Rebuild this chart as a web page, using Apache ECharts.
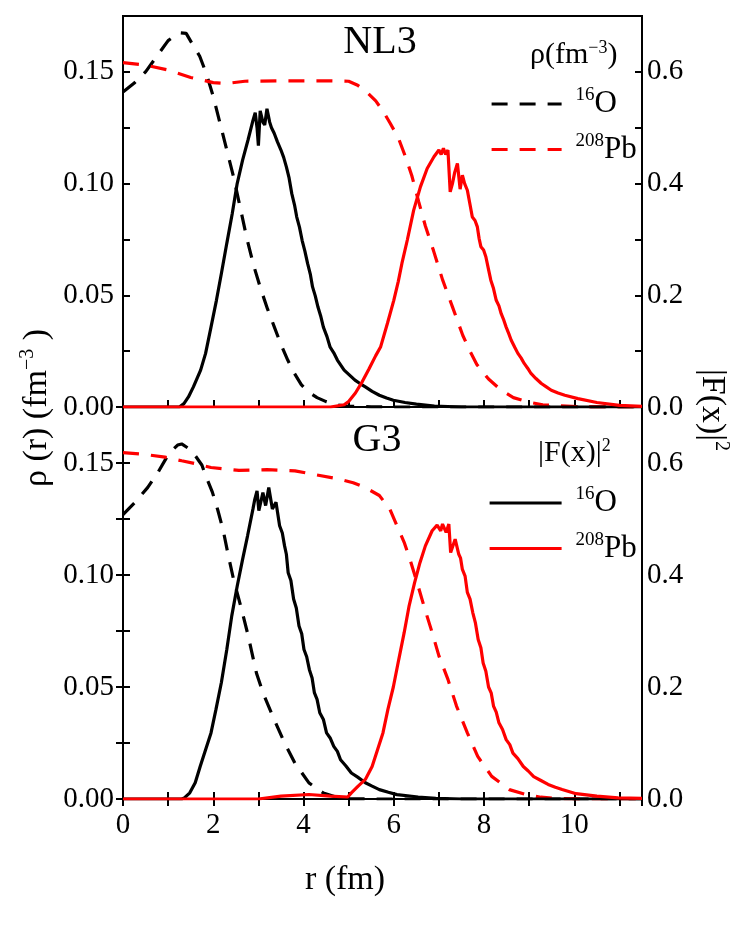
<!DOCTYPE html>
<html>
<head>
<meta charset="utf-8">
<title>NL3 / G3 densities</title>
<script src="https://cdn.jsdelivr.net/npm/echarts@6.0.0/dist/echarts.min.js"></script>
<style>
  html, body { margin: 0; padding: 0; background: #fff; }
  #chart { width: 747px; height: 933px; }
</style>
</head>
<body>
<div id="chart"></div>
<script>
// r (fm) -> value
// NL3 panel
var nl3RhoO = [[0, 0.141], [0.25, 0.145], [0.5, 0.150], [0.75, 0.157], [1.0, 0.164], [1.25, 0.1675], [1.4, 0.1672],
  [1.55, 0.162], [1.7, 0.157], [1.85, 0.149], [2.0, 0.139], [2.15, 0.127], [2.3, 0.115], [2.45, 0.103], [2.6, 0.089],
  [2.75, 0.075], [2.9, 0.063], [3.05, 0.053], [3.2, 0.044], [3.35, 0.036], [3.5, 0.028], [3.65, 0.021], [3.8, 0.015],
  [3.95, 0.010], [4.1, 0.0068], [4.3, 0.0042], [4.5, 0.0024], [4.75, 0.0009], [5.0, 0.0003], [5.5, 0.0001], [6, 0], [11.5, 0]]
var nl3RhoPb = [[0, 0.1541], [0.5, 0.153], [1.0, 0.1508], [1.5, 0.1475], [2.0, 0.1452], [2.3, 0.1448], [2.7, 0.1458],
  [3.5, 0.146], [4.5, 0.146], [5.0, 0.1458], [5.2, 0.144], [5.4, 0.141], [5.6, 0.137], [5.76, 0.1325], [5.92, 0.127],
  [6.1, 0.1205], [6.25, 0.1125], [6.4, 0.1035], [6.55, 0.092], [6.7, 0.081], [6.88, 0.070], [7.08, 0.057], [7.3, 0.0448],
  [7.53, 0.032], [7.7, 0.0245], [7.84, 0.019], [8.1, 0.0125], [8.38, 0.0075], [8.65, 0.0042], [8.96, 0.0023], [9.3, 0.001],
  [9.7, 0.0005], [10.2, 0.0001], [11.5, 0]]
var nl3FO = [[0, 0], [1.25, 0], [1.35, 0.006], [1.45, 0.018], [1.56, 0.036], [1.72, 0.066], [1.83, 0.096], [1.95, 0.143],
  [2.07, 0.191], [2.18, 0.239], [2.3, 0.293], [2.42, 0.346], [2.53, 0.40], [2.65, 0.442], [2.77, 0.478], [2.88, 0.513],
  [2.93, 0.527], [2.97, 0.50], [3.0, 0.468], [3.04, 0.53], [3.1, 0.51], [3.14, 0.505], [3.19, 0.534], [3.25, 0.51],
  [3.29, 0.50], [3.35, 0.49], [3.42, 0.475], [3.5, 0.46], [3.56, 0.447], [3.62, 0.43], [3.68, 0.41], [3.74, 0.382],
  [3.8, 0.362], [3.85, 0.34], [3.91, 0.322], [3.97, 0.298], [4.03, 0.279], [4.09, 0.257], [4.15, 0.238], [4.2, 0.215],
  [4.26, 0.199], [4.32, 0.179], [4.38, 0.163], [4.44, 0.143], [4.52, 0.126], [4.59, 0.107], [4.67, 0.097], [4.75, 0.084],
  [4.9, 0.066], [5.02, 0.057], [5.14, 0.048], [5.25, 0.042], [5.37, 0.036], [5.52, 0.028], [5.68, 0.021], [5.84, 0.016],
  [5.99, 0.012], [6.25, 0.008], [6.5, 0.005], [6.9, 0.0015], [7.5, 0], [11.5, 0]]
var nl3FPb = [[0, 0], [4.6, 0], [4.9, 0.004], [5.0, 0.01], [5.15, 0.025], [5.3, 0.045], [5.45, 0.068], [5.6, 0.092],
  [5.71, 0.108], [5.86, 0.15], [6.0, 0.191], [6.1, 0.225], [6.18, 0.257], [6.3, 0.299], [6.44, 0.352], [6.59, 0.394],
  [6.74, 0.427], [6.89, 0.448], [7.0, 0.46], [7.05, 0.452], [7.1, 0.463], [7.15, 0.452], [7.2, 0.46], [7.25, 0.385],
  [7.3, 0.40], [7.35, 0.42], [7.41, 0.436], [7.47, 0.39], [7.52, 0.415], [7.57, 0.40], [7.63, 0.388], [7.69, 0.362],
  [7.74, 0.34], [7.8, 0.334], [7.85, 0.323], [7.89, 0.302], [7.93, 0.287], [7.99, 0.281], [8.04, 0.269], [8.1, 0.246],
  [8.15, 0.227], [8.21, 0.212], [8.27, 0.191], [8.33, 0.181], [8.38, 0.167], [8.44, 0.155], [8.49, 0.143], [8.55, 0.131],
  [8.6, 0.12], [8.68, 0.107], [8.75, 0.096], [8.82, 0.088], [8.89, 0.078], [8.97, 0.069], [9.04, 0.06], [9.15, 0.051],
  [9.27, 0.042], [9.38, 0.036], [9.49, 0.03], [9.64, 0.025], [9.79, 0.021], [10.08, 0.015], [10.5, 0.008],
  [11.0, 0.003], [11.5, 0.001]]

// G3 panel
var g3RhoO = [[0, 0.127], [0.27, 0.1325], [0.545, 0.139], [0.78, 0.146], [1.01, 0.154], [1.21, 0.158], [1.3, 0.1585],
  [1.52, 0.1556], [1.75, 0.149], [1.83, 0.1444], [1.98, 0.137], [2.1, 0.129], [2.22, 0.12], [2.33, 0.109], [2.45, 0.098],
  [2.61, 0.086], [2.76, 0.074], [2.96, 0.056], [3.11, 0.047], [3.35, 0.0355], [3.58, 0.025], [3.81, 0.016], [4.12, 0.0072],
  [4.44, 0.0027], [4.75, 0.0007], [5.0, 0.0001], [5.5, 0], [11.5, 0]]
var g3RhoPb = [[0, 0.1546], [0.5, 0.1538], [0.93, 0.1526], [1.3, 0.151], [1.63, 0.1496], [1.95, 0.148], [2.57, 0.1467],
  [3.19, 0.147], [3.81, 0.1465], [4.28, 0.1447], [4.75, 0.143], [5.1, 0.1412], [5.37, 0.139], [5.68, 0.1355], [5.91, 0.1295],
  [6.07, 0.122], [6.23, 0.1146], [6.38, 0.1056], [6.54, 0.095], [6.69, 0.0847], [6.85, 0.0743], [7.0, 0.0639], [7.2, 0.0534],
  [7.39, 0.0415], [7.63, 0.0295], [7.86, 0.019], [8.17, 0.0101], [8.56, 0.0042], [8.95, 0.0019], [9.26, 0.0008],
  [9.6, 0.0002], [10.2, 0], [11.5, 0]]
var g3FO = [[0, 0], [1.3, 0], [1.36, 0.002], [1.48, 0.011], [1.6, 0.029], [1.71, 0.058], [1.83, 0.088], [1.95, 0.118],
  [2.06, 0.16], [2.18, 0.208], [2.3, 0.267], [2.41, 0.327], [2.53, 0.38], [2.65, 0.428], [2.76, 0.47], [2.88, 0.518],
  [2.92, 0.535], [2.97, 0.55], [3.01, 0.515], [3.04, 0.512], [3.1, 0.547], [3.16, 0.524], [3.23, 0.556], [3.31, 0.518],
  [3.39, 0.53], [3.47, 0.488], [3.53, 0.475], [3.58, 0.452], [3.62, 0.437], [3.66, 0.404], [3.72, 0.39], [3.78, 0.357],
  [3.84, 0.341], [3.9, 0.309], [3.96, 0.295], [4.01, 0.267], [4.07, 0.254], [4.13, 0.231], [4.19, 0.216], [4.24, 0.19],
  [4.3, 0.178], [4.36, 0.154], [4.44, 0.142], [4.51, 0.118], [4.59, 0.109], [4.67, 0.094], [4.75, 0.085], [4.82, 0.07],
  [4.94, 0.059], [5.06, 0.0465], [5.2, 0.039], [5.37, 0.029], [5.52, 0.023], [5.68, 0.0167], [5.88, 0.012], [6.07, 0.0078],
  [6.54, 0.0036], [6.93, 0.0012], [7.5, 0], [11.5, 0]]
var g3FPb = [[0, 0], [3.0, 0], [3.5, 0.005], [4.12, 0.008], [4.59, 0.005], [4.98, 0.0036], [5.06, 0.011], [5.21, 0.023],
  [5.37, 0.035], [5.52, 0.058], [5.64, 0.088], [5.76, 0.118], [5.87, 0.16], [5.99, 0.2], [6.11, 0.249], [6.23, 0.297],
  [6.34, 0.345], [6.46, 0.386], [6.58, 0.422], [6.7, 0.452], [6.85, 0.479], [6.96, 0.489], [7.04, 0.479], [7.08, 0.491],
  [7.16, 0.476], [7.22, 0.491], [7.26, 0.44], [7.36, 0.464], [7.44, 0.437], [7.48, 0.43], [7.52, 0.41], [7.58, 0.398],
  [7.63, 0.369], [7.69, 0.357], [7.75, 0.333], [7.81, 0.314], [7.87, 0.285], [7.93, 0.27], [7.98, 0.243], [8.04, 0.228],
  [8.1, 0.2], [8.16, 0.189], [8.21, 0.166], [8.27, 0.155], [8.33, 0.136], [8.41, 0.124], [8.49, 0.106], [8.57, 0.097],
  [8.64, 0.082], [8.75, 0.072], [8.87, 0.058], [8.98, 0.05], [9.1, 0.04], [9.26, 0.033], [9.42, 0.026], [9.58, 0.021],
  [9.73, 0.017], [10.04, 0.0095], [10.5, 0.005], [10.97, 0.002], [11.5, 0.001]]

// tick labels
var rTickLabels = [0, 2, 4, 6, 8, 10]
var rhoTickLabels = [0, 0.05, 0.10, 0.15]
var fTickLabels = [0, 0.2, 0.4, 0.6]

var FONT = 'Liberation Serif'
var BLACK = '#000'
var RED = '#ff0000'

function pick(list, digits) {
  return function (v) {
    for (var i = 0; i < list.length; i++) {
      if (Math.abs(list[i] - v) < 1e-6) return v.toFixed(digits)
    }
    return ''
  }
}

function xAxis(gridIndex, position, labels) {
  return {
    type: 'value', gridIndex: gridIndex, position: position,
    min: 0, max: 11.5, interval: 1,
    axisLine: { show: false },
    axisTick: { show: true, inside: true, length: 7, lineStyle: { color: BLACK, width: 2 } },
    axisLabel: {
      show: labels, margin: 12, color: BLACK, fontFamily: FONT, fontSize: 29,
      formatter: function (v) { return rTickLabels.indexOf(v) >= 0 ? String(v) : '' }
    },
    splitLine: { show: false }
  }
}

function yAxis(gridIndex, position, max, interval, labels, digits, margin) {
  return {
    type: 'value', gridIndex: gridIndex, position: position,
    min: 0, max: max, interval: interval,
    axisLine: { show: false },
    axisTick: { show: true, inside: true, length: 7, lineStyle: { color: BLACK, width: 2 } },
    axisLabel: { margin: margin, color: BLACK, fontFamily: FONT, fontSize: 29, formatter: pick(labels, digits) },
    splitLine: { show: false }
  }
}

function line(name, data, xi, yi, color, dashed) {
  return {
    name: name, type: 'line', data: data, xAxisIndex: xi, yAxisIndex: yi,
    symbol: 'none', smooth: false, animation: false,
    lineStyle: { color: color, width: 3.2, type: dashed ? [16, 12] : 'solid' },
    itemStyle: { color: color }
  }
}

var legendNames = {
  'NL3 rho O': '{s|16}{b|O}',
  'NL3 rho Pb': '{s|208}{b|Pb}',
  'G3 F O': '{s|16}{b|O}',
  'G3 F Pb': '{s|208}{b|Pb}'
}

var legendText = {
  fontFamily: FONT, color: BLACK,
  rich: {
    s: { fontFamily: FONT, fontSize: 19, lineHeight: 19, verticalAlign: 'top', padding: [0, 0, 0, 9], color: BLACK },
    b: { fontFamily: FONT, fontSize: 31, lineHeight: 36, color: BLACK }
  }
}

var richTitle = {
  a: { fontFamily: FONT, fontSize: 34, lineHeight: 38, fill: BLACK },
  s: { fontFamily: FONT, fontSize: 20, lineHeight: 20, verticalAlign: 'top', fill: BLACK }
}
var richHead = {
  a: { fontFamily: FONT, fontSize: 30, lineHeight: 32, fill: BLACK },
  s: { fontFamily: FONT, fontSize: 18, lineHeight: 18, verticalAlign: 'top', fill: BLACK }
}

function label(text, x, y, size, align, rotation, rich) {
  return {
    type: 'text', x: x, y: y, rotation: rotation || 0, z: 10,
    style: {
      text: text, fontFamily: FONT, fontSize: size, fill: BLACK,
      align: align, verticalAlign: 'middle', rich: rich
    }
  }
}

function legend(names, left, top, width) {
  return {
    data: names, left: left, top: top, orient: 'vertical',
    itemWidth: width, itemHeight: 14, itemGap: 12, selectedMode: false,
    itemStyle: { opacity: 0 },
    lineStyle: { width: 3.2 },
    textStyle: legendText,
    formatter: function (name) { return legendNames[name] }
  }
}

var chart = echarts.init(document.getElementById('chart'))
chart.setOption({
  backgroundColor: '#fff',
  animation: false,
  grid: [
    { left: 123, right: 105, top: 16, height: 391, show: true, borderColor: BLACK, borderWidth: 2 },
    { left: 123, right: 105, top: 407, height: 392, show: true, borderColor: BLACK, borderWidth: 2 }
  ],
  xAxis: [
    xAxis(0, 'bottom', false),
    xAxis(1, 'bottom', true),
    xAxis(1, 'top', false)
  ],
  yAxis: [
    yAxis(0, 'left', 0.175, 0.025, rhoTickLabels, 2, 9),
    yAxis(0, 'right', 0.7, 0.1, fTickLabels, 1, 5),
    yAxis(1, 'left', 0.175, 0.025, rhoTickLabels, 2, 9),
    yAxis(1, 'right', 0.7, 0.1, fTickLabels, 1, 5)
  ],
  legend: [
    legend(['NL3 rho O', 'NL3 rho Pb'], 485, 81, 70),
    legend(['G3 F O', 'G3 F Pb'], 483, 480, 72)
  ],
  graphic: [
    label('NL3', 380, 42, 40, 'center'),
    label('G3', 377, 440, 40, 'center'),
    label('{a|ρ(fm}{s|−3}{a|)}', 530, 55, 30, 'left', 0, richHead),
    label('{a||F(x)|}{s|2}', 538, 453, 30, 'left', 0, richHead),
    label('{a|ρ (r) (fm}{s|−3}{a| )}', 37, 408, 34, 'center', Math.PI / 2, richTitle),
    label('{a||F(x)|}{s|2}', 712, 410, 34, 'center', -Math.PI / 2, richTitle),
    label('r (fm)', 345, 880, 34, 'center')
  ],
  series: [
    line('NL3 rho O', nl3RhoO, 0, 0, BLACK, true),
    line('NL3 rho Pb', nl3RhoPb, 0, 0, RED, true),
    line('NL3 F O', nl3FO, 0, 1, BLACK, false),
    line('NL3 F Pb', nl3FPb, 0, 1, RED, false),
    line('G3 rho O', g3RhoO, 1, 2, BLACK, true),
    line('G3 rho Pb', g3RhoPb, 1, 2, RED, true),
    line('G3 F O', g3FO, 1, 3, BLACK, false),
    line('G3 F Pb', g3FPb, 1, 3, RED, false)
  ]
})
</script>
</body>
</html>
